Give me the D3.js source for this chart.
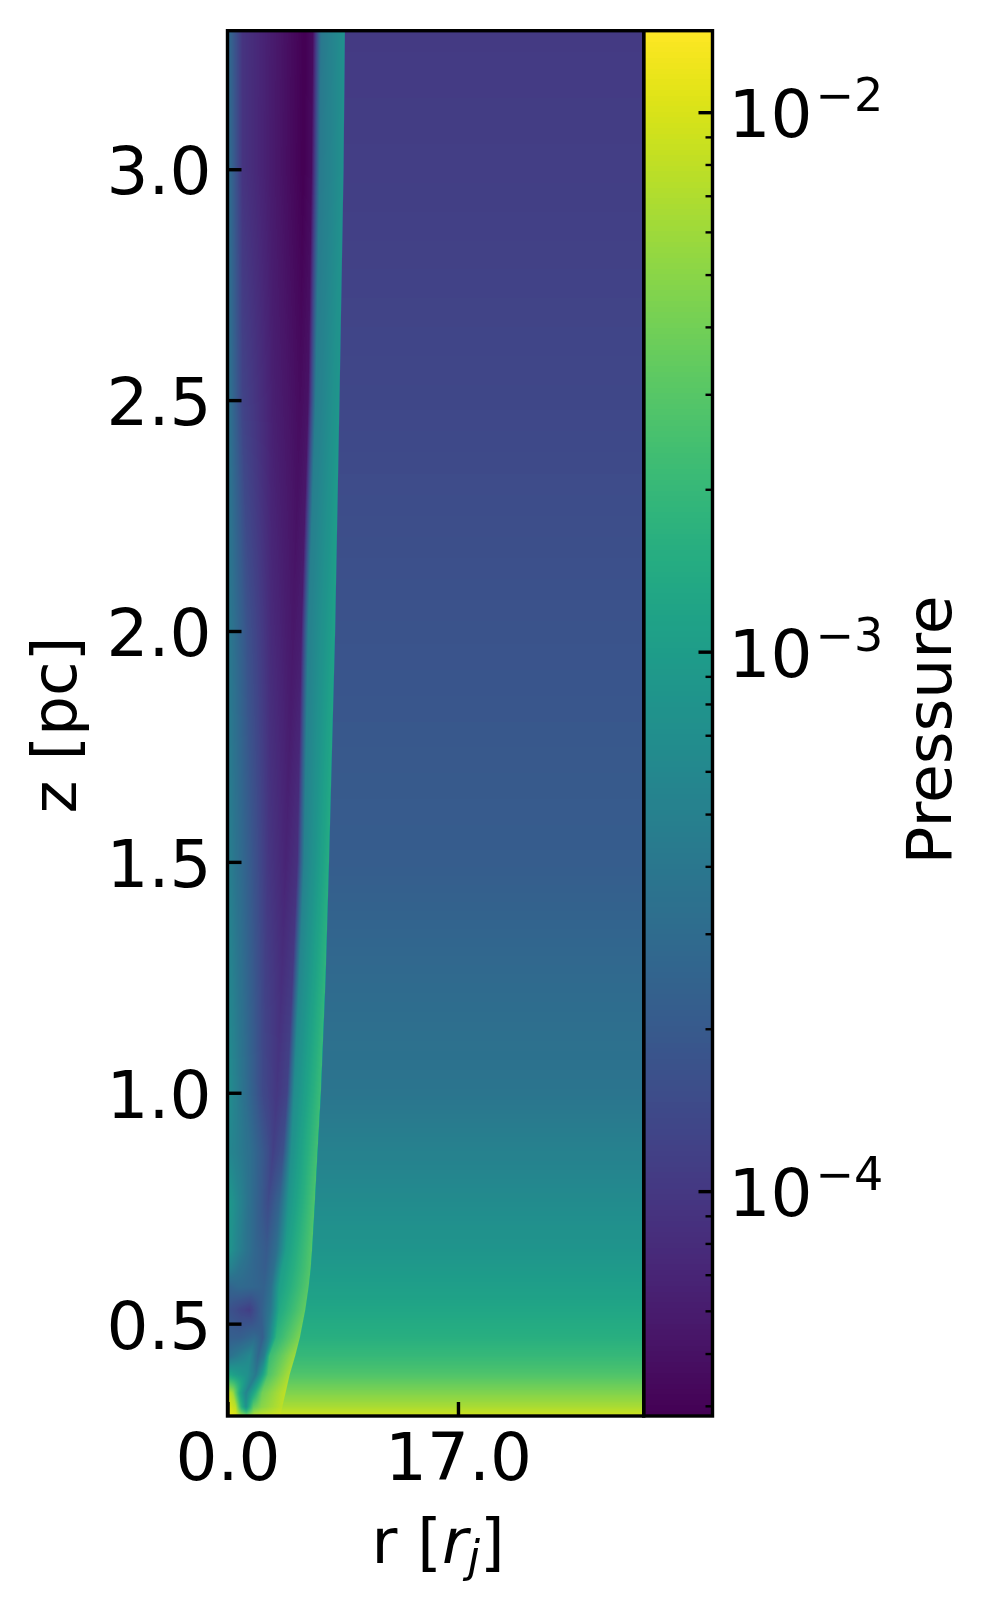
<!DOCTYPE html>
<html><head><meta charset="utf-8">
<script src="https://cdn.jsdelivr.net/npm/d3@7"></script>
<style>
html,body{margin:0;padding:0;background:#fff;}
#wrap{position:relative;width:987px;height:1611px;overflow:hidden;}
canvas,svg{position:absolute;left:0;top:0;}
text{font-family:"DejaVu Sans";fill:#000;}
</style></head><body><div id="wrap"><canvas id="heat" width="987" height="1611"></canvas><svg id="plot" width="987" height="1611"></svg></div>
<script>
// axis content
const rTicks = [0, 17];
const zTicks = [0.5, 1.0, 1.5, 2.0, 2.5, 3.0];
const rDomain = [0, 30.7];
const zDomain = [0.3, 3.3];
const pressureDomain = [3.83e-5, 0.01416];
const pressureMajor = [1e-4, 1e-3, 1e-2];
const pressureMinor = [4e-5,5e-5,6e-5,7e-5,8e-5,9e-5,2e-4,3e-4,4e-4,5e-4,6e-4,7e-4,8e-4,9e-4,2e-3,3e-3,4e-3,5e-3,6e-3,7e-3,8e-3,9e-3];
const pressureExponents = ["−4", "−3", "−2"];

// field: at each height, radii of the flow features and log10 pressure at them
const zRows = [3.30,3.00,2.50,2.00,1.50,1.25,1.00,0.87,0.76,0.66,0.62,0.58,0.53,0.47,0.43,0.39,0.35,0.32,0.30];
const rKnots = [
 [0,1.1,3.5,5.70,6.30,6.90,8.62,8.70,30.7],
 [0,1.1,3.4,5.60,6.20,6.80,8.52,8.60,30.7],
 [0,1.1,3.3,5.35,5.95,6.50,8.22,8.30,30.7],
 [0,1.5,3.2,4.85,5.45,5.95,7.90,7.98,30.7],
 [0,1.5,3.0,4.30,5.15,5.65,7.45,7.53,30.7],
 [0,1.4,2.8,4.00,4.80,5.30,7.20,7.28,30.7],
 [0,1.3,2.6,3.65,4.40,4.90,6.85,6.93,30.7],
 [0,1.7,2.9,3.36,4.10,4.70,6.60,6.68,30.7],
 [0,1.5,2.5,3.00,3.80,4.50,6.40,6.48,30.7],
 [0,1.0,2.0,2.90,3.60,4.30,6.20,6.28,30.7],
 [0,0.9,1.9,2.80,3.40,4.00,6.10,6.18,30.7],
 [0,0.8,1.8,2.70,3.20,3.80,5.95,6.03,30.7],
 [0,1.0,1.6,2.50,3.20,3.80,5.70,5.78,30.7],
 [0,0.9,2.0,2.60,3.10,3.60,5.30,5.38,30.7],
 [0,0.9,1.66,2.25,2.70,3.10,4.95,5.03,30.7],
 [0,0.55,1.45,2.10,2.55,3.00,4.55,4.63,30.7],
 [0,0.4,0.90,1.36,1.95,2.55,4.24,4.32,30.7],
 [0,0.6,1.00,1.36,1.90,2.50,4.00,4.08,30.7],
 [0,0.6,1.00,1.40,2.00,2.50,3.85,3.93,30.7]
];
const logPressure = [
 [-3.49,-4.03,-4.24,-4.42,-4.34,-3.39,-3.13,-3.98,-3.98],
 [-3.44,-4.03,-4.24,-4.42,-4.34,-3.37,-3.13,-3.95,-3.95],
 [-3.39,-3.90,-4.19,-4.34,-4.29,-3.34,-3.06,-3.87,-3.87],
 [-3.34,-3.78,-4.11,-4.26,-4.21,-3.31,-2.95,-3.76,-3.76],
 [-3.29,-3.65,-4.01,-4.16,-4.06,-3.29,-2.83,-3.67,-3.67],
 [-3.21,-3.57,-3.93,-4.08,-3.98,-3.24,-2.75,-3.54,-3.54],
 [-3.13,-3.49,-3.85,-4.01,-3.90,-3.18,-2.67,-3.42,-3.42],
 [-3.21,-3.49,-3.78,-3.93,-3.78,-3.13,-2.62,-3.29,-3.29],
 [-3.00,-3.44,-3.70,-3.83,-3.60,-3.08,-2.57,-3.18,-3.18],
 [-3.05,-3.34,-3.57,-3.70,-3.49,-3.00,-2.54,-3.08,-3.08],
 [-3.26,-3.44,-3.57,-3.67,-3.49,-3.00,-2.54,-3.03,-3.03],
 [-3.60,-3.54,-3.57,-3.62,-3.49,-2.98,-2.52,-2.98,-2.98],
 [-3.75,-3.88,-3.95,-3.65,-3.39,-2.88,-2.47,-2.90,-2.90],
 [-3.65,-3.65,-3.54,-3.65,-3.26,-2.75,-2.36,-2.80,-2.80],
 [-3.49,-3.34,-3.21,-3.57,-3.34,-2.67,-2.23,-2.70,-2.70],
 [-2.88,-3.00,-3.13,-3.39,-3.00,-2.57,-2.18,-2.56,-2.56],
 [-2.05,-2.23,-2.88,-3.26,-2.88,-2.41,-2.10,-2.34,-2.34],
 [-1.95,-2.11,-2.75,-3.13,-2.49,-2.31,-2.11,-2.18,-2.18],
 [-1.90,-1.98,-2.23,-2.36,-2.11,-2.08,-2.03,-2.03,-2.03]
];

const frame = {left:227.5, right:643.7, top:30.7, bottom:1416};
const bar = {left:643.7, right:712.5};
const x = d3.scaleLinear().domain(rDomain).range([frame.left, frame.right]);
const y = d3.scaleLinear().domain(zDomain).range([frame.bottom, frame.top]);
const yBar = d3.scaleLog().domain(pressureDomain).range([frame.bottom, frame.top]);
const color = d3.scaleSequentialLog(d3.interpolateViridis).domain(pressureDomain);

// heat map
const ctx = document.getElementById('heat').getContext('2d');
const rowAt = d3.scaleLinear().domain(zRows).range(zRows.map((d,i)=>i)).clamp(true);
const L = Math.floor(frame.left), R = Math.ceil(frame.right), T = Math.floor(frame.top), B = Math.ceil(frame.bottom);
for (let py=T; py<B; py++){
  const f = rowAt(y.invert(py+0.5));
  const i0 = Math.min(Math.floor(f), zRows.length-2), w = f-i0;
  const rs = rKnots[i0].map((v,k)=>v+(rKnots[i0+1][k]-v)*w);
  const vs = logPressure[i0].map((v,k)=>v+(logPressure[i0+1][k]-v)*w);
  const s = d3.scaleLinear().domain(rs).range(vs).clamp(true);
  for (let px=L; px<R; px++){
    ctx.fillStyle = color(Math.pow(10, s(x.invert(px+0.5))));
    ctx.fillRect(px,py,1,1);
  }
  // colour bar row
  ctx.fillStyle = color(yBar.invert(py+0.5));
  ctx.fillRect(R-1,py,Math.ceil(bar.right)-R+1,1);
}

const svg = d3.select('#plot');
const TICK_FONT = 66;
const TITLE_FONT = 63;

// main frame and axes
svg.append('rect').attr('x',frame.left).attr('y',frame.top).attr('width',frame.right-frame.left).attr('height',frame.bottom-frame.top)
  .attr('fill','none').attr('stroke','#000').attr('stroke-width',3.4);
svg.append('rect').attr('x',bar.left).attr('y',frame.top).attr('width',bar.right-bar.left).attr('height',frame.bottom-frame.top)
  .attr('fill','none').attr('stroke','#000').attr('stroke-width',3.4);

function styleAxis(g, major){
  g.select('.domain').remove();
  g.selectAll('.tick line').attr('stroke','#000').attr('stroke-width',major?3.4:2.4);
  g.selectAll('.tick text').attr('font-size',TICK_FONT).attr('font-family','DejaVu Sans').attr('fill','#000');
}
const gx = svg.append('g').attr('transform',`translate(0,${frame.bottom})`)
  .call(d3.axisBottom(x).tickValues(rTicks).tickFormat(d3.format('.1f')).tickSizeInner(-14).tickSizeOuter(0).tickPadding(17));
styleAxis(gx,true);
const gy = svg.append('g').attr('transform',`translate(${frame.left},0)`)
  .call(d3.axisLeft(y).tickValues(zTicks).tickFormat(d3.format('.1f')).tickSizeInner(-14).tickSizeOuter(0).tickPadding(16));
styleAxis(gy,true);
gy.selectAll('.tick text').attr('dy','0.37em');

// colour bar axis
const gbMinor = svg.append('g').attr('transform',`translate(${bar.right},0)`)
  .call(d3.axisRight(yBar).tickValues(pressureMinor).tickFormat('').tickSizeInner(-7).tickSizeOuter(0));
styleAxis(gbMinor,false);
const gbMajor = svg.append('g').attr('transform',`translate(${bar.right},0)`)
  .call(d3.axisRight(yBar).tickValues(pressureMajor).tickFormat('').tickSizeInner(-14).tickSizeOuter(0));
styleAxis(gbMajor,true);
pressureMajor.forEach((p,i)=>{
  const t = svg.append('text').attr('x',728.5).attr('y',yBar(p)+25).attr('font-size',TICK_FONT);
  t.append('tspan').text('10');
  t.append('tspan').attr('font-size',46).attr('dy',-26).attr('dx',3).text(pressureExponents[i]);
});

// axis titles
svg.append('text').attr('transform',`translate(76,${y(1.82)+11}) rotate(-90)`).attr('text-anchor','middle').attr('font-size',TITLE_FONT).text('z [pc]');
svg.append('text').attr('transform',`translate(951,730) rotate(-90)`).attr('text-anchor','middle').attr('font-size',TITLE_FONT).text('Pressure');
const xl = svg.append('text').attr('x',438).attr('y',1563).attr('text-anchor','middle').attr('font-size',TITLE_FONT);
xl.append('tspan').text('r [');
xl.append('tspan').attr('font-style','italic').text('r');
xl.append('tspan').attr('font-style','italic').attr('font-size',44).attr('dy',9).text('j');
xl.append('tspan').attr('dy',-9).text(']');
</script></body></html>
